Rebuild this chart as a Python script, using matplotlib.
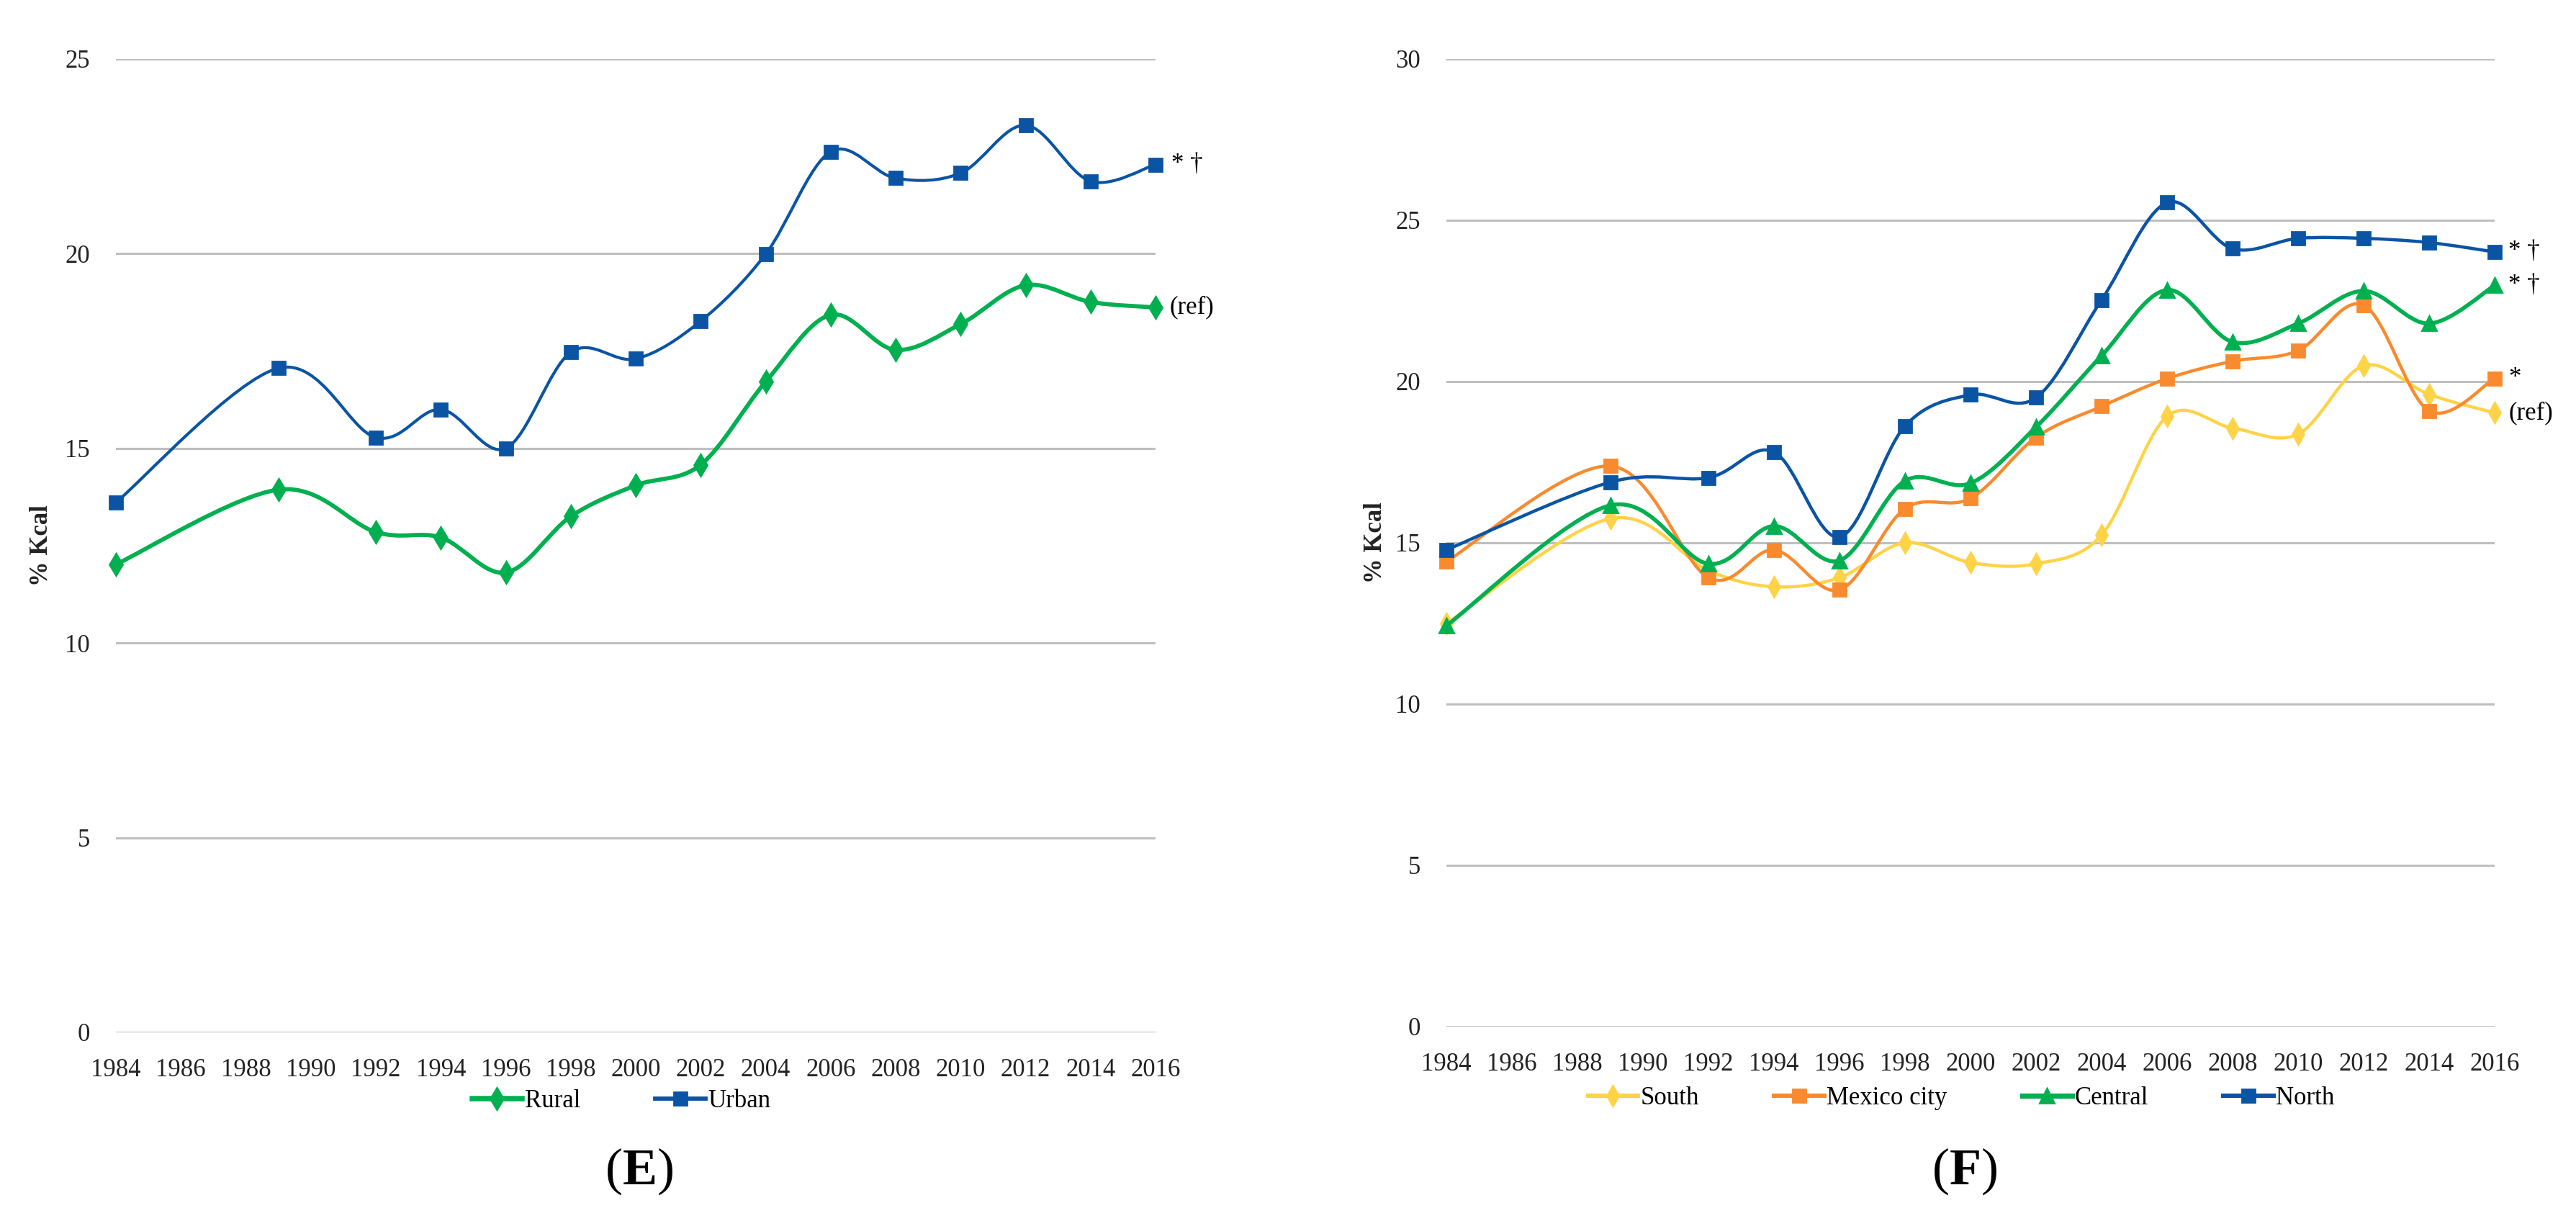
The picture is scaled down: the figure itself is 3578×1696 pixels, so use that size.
import matplotlib
matplotlib.use("Agg")
import matplotlib.pyplot as plt
from matplotlib.path import Path
from matplotlib.patches import PathPatch
from matplotlib.lines import Line2D

plt.rcParams['font.family'] = ['Liberation Serif', 'DejaVu Serif']
plt.rcParams['mathtext.fontset'] = 'custom'
plt.rcParams['mathtext.rm'] = 'Liberation Serif'
plt.rcParams['mathtext.bf'] = 'Liberation Serif:bold'

# ---------------- data ----------------
years = [1984, 1989, 1992, 1994, 1996, 1998, 2000, 2002, 2004, 2006, 2008, 2010, 2012, 2014, 2016]
xticks = list(range(1984, 2017, 2))

rural = [12.02, 13.94, 12.85, 12.71, 11.81, 13.25, 14.05, 14.58, 16.71, 18.43, 17.53, 18.19, 19.19, 18.76, 18.62]
urban = [13.61, 17.06, 15.28, 16.00, 15.00, 17.47, 17.30, 18.27, 19.99, 22.62, 21.94, 22.07, 23.30, 21.86, 22.29]

south = [12.50, 15.75, 14.14, 13.64, 13.92, 15.00, 14.39, 14.35, 15.24, 18.92, 18.56, 18.37, 20.49, 19.60, 19.03]
mexico_city = [14.42, 17.38, 13.92, 14.78, 13.54, 16.06, 16.38, 18.27, 19.23, 20.09, 20.63, 20.96, 22.37, 19.09, 20.10]
central = [12.43, 16.16, 14.35, 15.52, 14.45, 16.92, 16.85, 18.59, 20.80, 22.84, 21.23, 21.80, 22.81, 21.80, 22.98]
north = [14.78, 16.88, 17.02, 17.82, 15.18, 18.62, 19.59, 19.50, 22.53, 25.55, 24.12, 24.44, 24.44, 24.31, 24.02]

left_names = ['Rural', 'Urban']
left_notes = ['(ref)', '* \u2020']
right_names = ['South', 'Mexico city', 'Central', 'North']
right_notes = ['(ref)', '*', '* \u2020', '* \u2020']
panel_labels = ['E', 'F']

# ---------------- style ----------------
C_GREEN = '#00B050'
C_BLUE = '#0B54A4'
C_ORANGE = '#F98A2D'
C_YELLOW = '#FFD347'
GRID = '#BFBFBF'
FS = 12.5


def smooth_path(xs, ys):
    pts = list(zip(xs, ys))
    n = len(pts)
    verts = [pts[0]]
    codes = [Path.MOVETO]
    for i in range(n - 1):
        p0 = pts[i - 1] if i > 0 else pts[i]
        p1 = pts[i]
        p2 = pts[i + 1]
        p3 = pts[i + 2] if i + 2 < n else pts[i + 1]
        c1 = (p1[0] + (p2[0] - p0[0]) / 6.0, p1[1] + (p2[1] - p0[1]) / 6.0)
        c2 = (p2[0] - (p3[0] - p1[0]) / 6.0, p2[1] - (p3[1] - p1[1]) / 6.0)
        verts += [c1, c2, p2]
        codes += [Path.CURVE4, Path.CURVE4, Path.CURVE4]
    return Path(verts, codes)


def draw_series(ax, xs, ys, color, marker, ms, lw, z):
    patch = PathPatch(smooth_path(xs, ys), facecolor='none', edgecolor=color,
                      lw=lw, transform=ax.transData, zorder=z, capstyle='round',
                      joinstyle='round', clip_on=False)
    ax.add_patch(patch)
    ax.plot(xs, ys, linestyle='none', marker=marker, markersize=ms, color=color,
            markeredgecolor=color, zorder=z + 0.5, clip_on=False)
    return Line2D([], [], color=color, lw=lw + 0.6, marker=marker, markersize=ms,
                  markeredgecolor=color)


def style_axes(ax, ymax):
    ax.set_xlim(1984, 2016)
    ax.set_ylim(0, ymax)
    ax.set_xticks(xticks)
    ax.set_yticks(range(0, ymax + 1, 5))
    for s in ax.spines.values():
        s.set_visible(False)
    ax.tick_params(axis='both', length=0, labelsize=FS, colors='#222222')
    ax.tick_params(axis='y', pad=13)
    ax.tick_params(axis='x', pad=13)
    ax.yaxis.grid(True, color=GRID, lw=1.1)
    ax.set_axisbelow(True)
    ax.patch.set_alpha(0)


W, H = 3578, 1696
fig = plt.figure(figsize=(W / 200, H / 200), dpi=200)

axL = fig.add_axes([161 / W, 1 - 1434 / H, (1605 - 161) / W, (1434 - 82) / H])
axR = fig.add_axes([2009 / W, 1 - 1426 / H, (3465 - 2009) / W, (1426 - 82) / H])
style_axes(axL, 25)
style_axes(axR, 30)

# left panel
hL = []
hL.append(draw_series(axL, years, rural, C_GREEN, 'd', 7.5, 2.1, 3))
hL.append(draw_series(axL, years, urban, C_BLUE, 's', 6.2, 1.5, 4))
for vals, note in zip([rural, urban], left_notes):
    axL.annotate(note, xy=(years[-1], vals[-1]), xytext=(7 if note.startswith('(') else 8, 0),
                 textcoords='offset points', ha='left', va='center', fontsize=FS,
                 annotation_clip=False)

# right panel
hR = []
hR.append(draw_series(axR, years, south, C_YELLOW, 'd', 7.0, 1.6, 3))
hR.append(draw_series(axR, years, mexico_city, C_ORANGE, 's', 6.5, 1.6, 4))
hR.append(draw_series(axR, years, central, C_GREEN, '^', 7.0, 2.0, 5))
hR.append(draw_series(axR, years, north, C_BLUE, 's', 6.5, 1.6, 6))
for vals, note in zip([south, mexico_city, central, north], right_notes):
    axR.annotate(note, xy=(years[-1], vals[-1]), xytext=(7, 0),
                 textcoords='offset points', ha='left', va='center', fontsize=FS,
                 annotation_clip=False)

# legends
fig.legend(hL, left_names, loc='center', bbox_to_anchor=(863 / W, 1 - 1530 / H),
           ncol=2, frameon=False, fontsize=FS, handlelength=2.0, handletextpad=0.1,
           columnspacing=3.0, numpoints=1)
fig.legend(hR, right_names, loc='center', bbox_to_anchor=(2724 / W, 1 - 1526 / H),
           ncol=4, frameon=False, fontsize=FS, handlelength=2.0, handletextpad=0.1,
           columnspacing=3.0, numpoints=1)

# y labels
fig.text(57 / W, 1 - 758 / H, '% Kcal', rotation=90, ha='center', va='center',
         fontsize=12.5, fontweight='bold', color='#222222')
fig.text(1910 / W, 1 - 754 / H, '% Kcal', rotation=90, ha='center', va='center',
         fontsize=12.5, fontweight='bold', color='#222222')

# panel labels
fig.text(888 / W, 1 - 1627 / H, r'($\mathbf{%s}$)' % panel_labels[0], ha='center',
         va='center', fontsize=26)
fig.text(2729 / W, 1 - 1627 / H, r'($\mathbf{%s}$)' % panel_labels[1], ha='center',
         va='center', fontsize=26)

fig.savefig('out.png', dpi=200, facecolor='white')
